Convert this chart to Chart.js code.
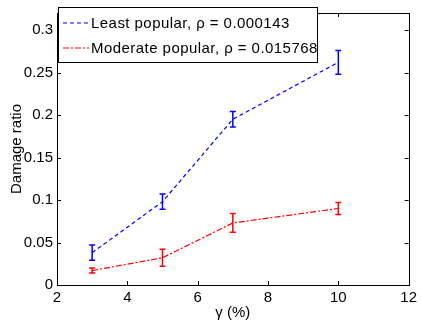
<!DOCTYPE html>
<html>
<head>
<meta charset="UTF-8">
<script src="https://cdn.jsdelivr.net/npm/chart.js"></script>
<style>
  body { margin: 0; background: #fff; }
  #wrap { width: 421px; height: 327px; }
</style>
</head>
<body>
<div id="wrap"><canvas id="chart" width="421" height="327"></canvas></div>
<script>
// values
const gammaPct = [3, 5, 7, 10];
const leastPopular = [0.038, 0.098, 0.195, 0.262];
const leastErr = [0.009, 0.009, 0.009, 0.014];
const moderatePopular = [0.017, 0.032, 0.073, 0.090];
const moderateErr = [0.003, 0.010, 0.011, 0.007];
const xTicks = [2, 4, 6, 8, 10, 12];
const yTicks = [0, 0.05, 0.1, 0.15, 0.2, 0.25, 0.3];
const legendLabels = ['Least popular, \u03c1 = 0.000143', 'Moderate popular, \u03c1 = 0.015768'];

const FONT = '"Liberation Sans", Arial, sans-serif';
const toPts = (ys) => gammaPct.map((x, i) => ({ x: x, y: ys[i] }));

// box, inner ticks, error bars and legend (matlab look)
const matlabAxes = {
    id: 'matlabAxes',
    afterDatasetsDraw(chart) {
        const ctx = chart.ctx;
        const xs = chart.scales.x, ys = chart.scales.y;
        const a = chart.chartArea;
        const errs = [leastErr, moderateErr];

        ctx.save();
        chart.data.datasets.forEach((ds, di) => {
            ctx.strokeStyle = ds.borderColor;
            ctx.lineWidth = 1.5;
            ctx.setLineDash([]);
            ds.data.forEach((p, i) => {
                const px = xs.getPixelForValue(p.x);
                const lo = ys.getPixelForValue(p.y - errs[di][i]);
                const hi = ys.getPixelForValue(p.y + errs[di][i]);
                ctx.beginPath();
                ctx.moveTo(px, lo); ctx.lineTo(px, hi);
                ctx.moveTo(px - 3, lo); ctx.lineTo(px + 3, lo);
                ctx.moveTo(px - 3, hi); ctx.lineTo(px + 3, hi);
                ctx.stroke();
            });
        });

        // box
        ctx.strokeStyle = '#000';
        ctx.lineWidth = 1;
        ctx.strokeRect(Math.round(a.left) + 0.5, Math.round(a.top) + 0.5,
            Math.round(a.right - a.left), Math.round(a.bottom - a.top));
        ctx.beginPath();
        xTicks.forEach(v => {
            const px = Math.round(xs.getPixelForValue(v)) + 0.5;
            ctx.moveTo(px, a.bottom); ctx.lineTo(px, a.bottom - 4);
            ctx.moveTo(px, a.top); ctx.lineTo(px, a.top + 4);
        });
        yTicks.forEach(v => {
            const py = Math.round(ys.getPixelForValue(v)) + 0.5;
            ctx.moveTo(a.left, py); ctx.lineTo(a.left + 4, py);
            ctx.moveTo(a.right, py); ctx.lineTo(a.right - 4, py);
        });
        ctx.stroke();

        // legend
        const lx = 58, ly = 7, lw = 259, lh = 55;
        ctx.fillStyle = '#fff';
        ctx.fillRect(lx, ly, lw, lh);
        ctx.strokeRect(lx + 0.5, ly + 0.5, lw, lh);
        ctx.font = '15px ' + FONT;
        ctx.letterSpacing = '0.45px';
        ctx.textBaseline = 'middle';
        chart.data.datasets.forEach((ds, di) => {
            const y = ly + 16 + di * 25;
            ctx.strokeStyle = ds.borderColor;
            ctx.lineWidth = 1.2;
            ctx.setLineDash(ds.borderDash);
            ctx.beginPath();
            ctx.moveTo(lx + 5, y); ctx.lineTo(lx + 31, y);
            ctx.stroke();
            ctx.setLineDash([]);
            ctx.fillStyle = '#000';
            ctx.fillText(legendLabels[di], lx + 33, y + 1);
        });
        ctx.restore();
    }
};

new Chart(document.getElementById('chart'), {
    type: 'line',
    data: {
        datasets: [{
            label: legendLabels[0],
            data: toPts(leastPopular),
            borderColor: '#0000ff',
            borderWidth: 1.2,
            borderDash: [4, 3],
            pointRadius: 0,
            fill: false
        }, {
            label: legendLabels[1],
            data: toPts(moderatePopular),
            borderColor: '#ff0000',
            borderWidth: 1.2,
            borderDash: [6, 2, 2, 2],
            pointRadius: 0,
            fill: false
        }]
    },
    options: {
        responsive: false,
        animation: false,
        layout: { padding: { top: 6, right: 11, left: 0, bottom: 0 } },
        plugins: { legend: { display: false }, tooltip: { enabled: false } },
        scales: {
            x: {
                type: 'linear', min: 2, max: 12,
                afterBuildTicks: s => { s.ticks = xTicks.map(v => ({ value: v })); },
                afterFit: s => { s.height = 42; },
                grid: { display: false, drawTicks: false }, border: { display: false },
                ticks: { color: '#000', padding: 4, font: { family: FONT, size: 15 }, callback: v => String(v) },
                title: { display: true, text: '\u03b3 (%)', color: '#000', padding: { top: 5, bottom: 5 }, font: { family: FONT, size: 15 } }
            },
            y: {
                type: 'linear', min: 0, max: 0.32,
                afterBuildTicks: s => { s.ticks = yTicks.map(v => ({ value: v })); },
                afterFit: s => { s.width = 57; },
                grid: { display: false, drawTicks: false }, border: { display: false },
                ticks: { color: '#000', padding: 4, font: { family: FONT, size: 15 }, callback: v => String(v) },
                title: { display: true, text: 'Damage ratio', color: '#000', padding: { top: 8, bottom: 8 }, font: { family: FONT, size: 15 } }
            }
        }
    },
    plugins: [matlabAxes]
});
</script>
</body>
</html>
